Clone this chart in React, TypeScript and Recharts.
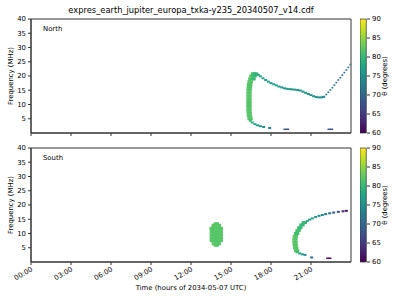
import { ScatterChart, Scatter, XAxis, YAxis, ReferenceArea, BarChart, Bar } from 'recharts';

// [hours, MHz, theta in degrees]
type Pt = [number, number, number];

const title = 'expres_earth_jupiter_europa_txka-y235_20340507_v14.cdf';
const hourTicks = [0, 3, 6, 9, 12, 15, 18, 21];
const freqTicks = [5, 10, 15, 20, 25, 30, 35, 40];
const thetaTicks = [60, 65, 70, 75, 80, 85, 90];

const northBand: Pt[] = [
  [16.36, 5, 82], [16.5, 5, 82],
  [16.32, 6, 82], [16.46, 6, 82],
  [16.3, 7, 82], [16.44, 7, 82],
  [16.28, 8, 82], [16.42, 8, 82],
  [16.28, 9, 82], [16.42, 9, 82],
  [16.28, 10, 82], [16.42, 10, 82],
  [16.28, 11, 82], [16.42, 11, 82],
  [16.28, 12, 82], [16.42, 12, 82],
  [16.28, 13, 82], [16.42, 13, 82],
  [16.28, 14, 82], [16.42, 14, 82],
  [16.29, 15, 82], [16.43, 15, 82],
  [16.3, 16, 82], [16.45, 16, 82],
  [16.32, 17, 82], [16.48, 17, 82],
  [16.36, 18, 82], [16.52, 18, 82],
  [16.42, 19, 82], [16.58, 19, 81], [16.72, 19, 80],
  [16.5, 20, 82], [16.65, 20, 81], [16.8, 20, 80],
  [16.62, 20.8, 81], [16.78, 20.8, 80], [16.92, 20.7, 79],
];

const northArc: Pt[] = [
  [17.05, 20.4, 79], [17.2, 19.9, 78], [17.4, 19.2, 78], [17.6, 18.6, 77], [17.8, 18.0, 77],
  [18.0, 17.5, 77], [18.2, 17.1, 77], [18.4, 16.7, 77], [18.6, 16.3, 77], [18.8, 16.0, 76],
  [19.0, 15.7, 76], [19.2, 15.5, 76], [19.4, 15.4, 76], [19.6, 15.3, 76], [19.8, 15.2, 76],
  [20.0, 15.1, 76], [20.2, 14.9, 76], [20.4, 14.5, 76], [20.6, 14.1, 76], [20.8, 13.7, 75],
  [21.0, 13.3, 75], [21.2, 12.9, 75], [21.4, 12.6, 75], [21.6, 12.5, 75], [21.8, 12.5, 74],
  [21.95, 12.7, 73],
];

const northRise: Pt[] = [
  [22.15, 13.5, 72], [22.3, 14.3, 72], [22.45, 15.1, 72], [22.6, 15.9, 72], [22.75, 16.8, 72],
  [22.9, 17.7, 71], [23.05, 18.6, 71], [23.2, 19.4, 71], [23.35, 20.3, 71], [23.5, 21.2, 71],
  [23.65, 22.1, 71], [23.8, 23.0, 71], [23.95, 24.0, 71],
];

const northTail: Pt[] = [
  [16.45, 4.3, 80], [16.6, 3.7, 79], [16.8, 3.1, 78], [17.0, 2.7, 77],
  [17.2, 2.4, 76], [17.45, 2.1, 75], [17.9, 1.75, 73],
];

const northLow: Pt[] = [
  [19.05, 1.3, 67], [19.25, 1.3, 67], [22.35, 1.3, 67], [22.55, 1.3, 67],
];

const southBlob: Pt[] = [
  [13.53, 7.5, 82], [13.53, 8.5, 82], [13.53, 9.5, 82], [13.53, 10.5, 82], [13.53, 11.5, 82], [13.53, 11.8, 82],
  [13.68, 6.4, 82], [13.68, 7.4, 82], [13.68, 8.4, 82], [13.68, 9.4, 82], [13.68, 10.4, 82], [13.68, 11.4, 82], [13.68, 12.4, 82], [13.68, 12.9, 82],
  [13.83, 5.9, 82], [13.83, 6.9, 82], [13.83, 7.9, 82], [13.83, 8.9, 82], [13.83, 9.9, 82], [13.83, 10.9, 82], [13.83, 11.9, 82], [13.83, 12.9, 82], [13.83, 13.4, 82],
  [13.97, 5.9, 82], [13.97, 6.9, 82], [13.97, 7.9, 82], [13.97, 8.9, 82], [13.97, 9.9, 82], [13.97, 10.9, 82], [13.97, 11.9, 82], [13.97, 12.9, 82], [13.97, 13.4, 82],
  [14.12, 6.4, 82], [14.12, 7.4, 82], [14.12, 8.4, 82], [14.12, 9.4, 82], [14.12, 10.4, 82], [14.12, 11.4, 82], [14.12, 12.4, 82], [14.12, 12.9, 82],
  [14.27, 7.5, 82], [14.27, 8.5, 82], [14.27, 9.5, 82], [14.27, 10.5, 82], [14.27, 11.5, 82], [14.27, 11.8, 82],
];

const southBand: Pt[] = [
  [19.85, 4, 82], [19.99, 4, 82],
  [19.78, 5, 82], [19.92, 5, 82],
  [19.75, 6, 82], [19.89, 6, 82],
  [19.73, 7, 82], [19.87, 7, 82],
  [19.73, 8, 82], [19.87, 8, 82],
  [19.76, 9, 82], [19.9, 9, 82],
  [19.85, 10, 81], [19.99, 10, 81],
  [19.96, 11, 81], [20.1, 11, 81],
  [20.09, 12, 80], [20.23, 12, 80],
  [20.25, 13, 80], [20.39, 13, 80],
  [20.43, 13.8, 80], [20.57, 13.8, 80],
];

const southArc: Pt[] = [
  [20.72, 14.4, 79], [20.9, 14.9, 78], [21.1, 15.3, 77], [21.35, 15.8, 76], [21.6, 16.2, 75],
  [21.85, 16.5, 74], [22.1, 16.8, 72], [22.4, 17.1, 71], [22.7, 17.35, 69], [23.05, 17.6, 67],
  [23.4, 17.8, 64], [23.65, 17.95, 62],
];

const southTail: Pt[] = [
  [19.95, 3.4, 80], [20.15, 3.0, 78], [20.35, 2.7, 77], [20.55, 2.5, 75], [21.05, 1.6, 71],
];

const southLow: Pt[] = [[22.25, 1.3, 61], [22.42, 1.3, 61]];

const viridisStops = [
  '#440154', '#482475', '#414487', '#355f8d', '#2a788e', '#21918c',
  '#22a884', '#44bf70', '#7ad151', '#bddf26', '#fde725',
];

function hexRgb(h: string) {
  return [1, 3, 5].map(i => parseInt(h.slice(i, i + 2), 16));
}

function viridis(theta: number) {
  const n = Math.min(1, Math.max(0, (theta - 60) / 30)) * (viridisStops.length - 1);
  const i = Math.min(viridisStops.length - 2, Math.floor(n));
  const f = n - i;
  const a = hexRgb(viridisStops[i]);
  const b = hexRgb(viridisStops[i + 1]);
  const c = a.map((v, k) => Math.round(v + (b[k] - v) * f));
  return `rgb(${c[0]},${c[1]},${c[2]})`;
}

const toRows = (pts: Pt[]) => pts.map(([t, f, th]) => ({ t, f, th }));

const box = (w: number, h: number) => (p: any) => (
  <rect x={p.cx - w / 2} y={p.cy - h / 2} width={w} height={h} fill={viridis(p.payload.th)} />
);

const fmtHour = (h: number) => `${String(h).padStart(2, '0')}:00`;

const TimeTick = ({ x, y, payload }: any) => (
  <g transform={`translate(${x},${y})`}>
    <text transform="rotate(-30)" textAnchor="end" dy="0.6em" fontSize={6.9} fill="#000">
      {fmtHour(payload.value)}
    </text>
  </g>
);

const axisStroke = '#333';
const tickStyle = { fontSize: 6.9, fill: '#000' };

function Panel({ name, series, bottom }: { name: string; series: [Pt[], number, number][]; bottom: boolean }) {
  return (
    <ScatterChart
      width={400}
      height={bottom ? 171 : 145}
      margin={{ top: 19, right: 49, bottom: bottom ? 8 : 7, left: 6 }}
    >
      <XAxis
        type="number"
        dataKey="t"
        domain={[0, 24]}
        ticks={hourTicks}
        height={bottom ? 30 : 5}
        tickSize={3}
        stroke={axisStroke}
        tick={bottom ? <TimeTick /> : () => <g />}
        label={bottom ? { value: 'Time (hours of 2034-05-07 UTC)', position: 'insideBottom', offset: 2, style: { fontSize: 6.9, fill: '#000' } } : undefined}
        allowDataOverflow
      />
      <YAxis
        type="number"
        dataKey="f"
        domain={[0, 40]}
        ticks={freqTicks}
        width={25}
        tickSize={3}
        tickMargin={2}
        stroke={axisStroke}
        tick={tickStyle}
        label={{ value: 'Frequency (MHz)', angle: -90, position: 'insideLeft', offset: 5, style: { fontSize: 6.9, fill: '#000', textAnchor: 'middle' } }}
        allowDataOverflow
      />
      <ReferenceArea x1={0} x2={24} y1={0} y2={40} fill="none" stroke={axisStroke} strokeWidth={1} ifOverflow="visible" />
      {series.map(([pts, w, h], i) => (
        <Scatter key={name + i} data={toRows(pts)} shape={box(w, h)} isAnimationActive={false} />
      ))}
    </ScatterChart>
  );
}

function ColorBar({ id, height, bottomMargin }: { id: string; height: number; bottomMargin: number }) {
  return (
    <BarChart
      width={40}
      height={height}
      data={[{ k: 'c', range: [60, 90] }]}
      margin={{ top: 19, right: 8, bottom: bottomMargin, left: 0 }}
      barCategoryGap={0}
    >
      <defs>
        <linearGradient id={id} x1="0" y1="1" x2="0" y2="0">
          {viridisStops.map((c, i) => (
            <stop key={c} offset={`${(i / (viridisStops.length - 1)) * 100}%`} stopColor={c} />
          ))}
        </linearGradient>
      </defs>
      <XAxis dataKey="k" hide />
      <YAxis
        orientation="right"
        type="number"
        domain={[60, 90]}
        ticks={thetaTicks}
        width={25}
        tickSize={3}
        tickMargin={2}
        axisLine={false}
        stroke={axisStroke}
        tick={{ ...tickStyle, textAnchor: 'start' }}
        label={{ value: 'θ (degrees)', angle: -90, position: 'insideRight', offset: 7, style: { fontSize: 6.9, fill: '#000', textAnchor: 'middle' } }}
      />
      <Bar dataKey="range" barSize={7} fill={`url(#${id})`} stroke={axisStroke} strokeWidth={0.7} isAnimationActive={false} />
    </BarChart>
  );
}

const labelStyle = { position: 'absolute' as const, fontSize: 6.9, lineHeight: '8px', color: '#000' };

export default function App() {
  return (
    <div style={{ position: 'relative', width: 400, height: 300, background: '#fff', fontFamily: '"DejaVu Sans", sans-serif', overflow: 'hidden' }}>
      <style>{'body{margin:0}'}</style>
      <div style={{ position: 'absolute', left: 31, width: 320, top: 5, textAlign: 'center', fontSize: 8.3, lineHeight: '11px' }}>
        {title}
      </div>
      <div style={{ position: 'absolute', left: 0, top: 0 }}>
        <Panel
          name="north"
          bottom={false}
          series={[
            [northBand, 3.5, 3],
            [northArc, 3, 2],
            [northTail, 3, 2],
            [northRise, 1.8, 1.6],
            [northLow, 3, 1.5],
          ]}
        />
      </div>
      <div style={{ position: 'absolute', left: 0, top: 129 }}>
        <Panel
          name="south"
          bottom
          series={[
            [southBlob, 3.5, 3],
            [southBand, 3.5, 3],
            [southArc, 3, 2],
            [southTail, 3, 2],
            [southLow, 3, 1.5],
          ]}
        />
      </div>
      <div style={{ position: 'absolute', left: 360, top: 0 }}>
        <ColorBar id="vir-n" height={145} bottomMargin={12} />
      </div>
      <div style={{ position: 'absolute', left: 360, top: 129 }}>
        <ColorBar id="vir-s" height={171} bottomMargin={38} />
      </div>
      <div style={{ ...labelStyle, left: 43, top: 25 }}>North</div>
      <div style={{ ...labelStyle, left: 43, top: 154 }}>South</div>
    </div>
  );
}
